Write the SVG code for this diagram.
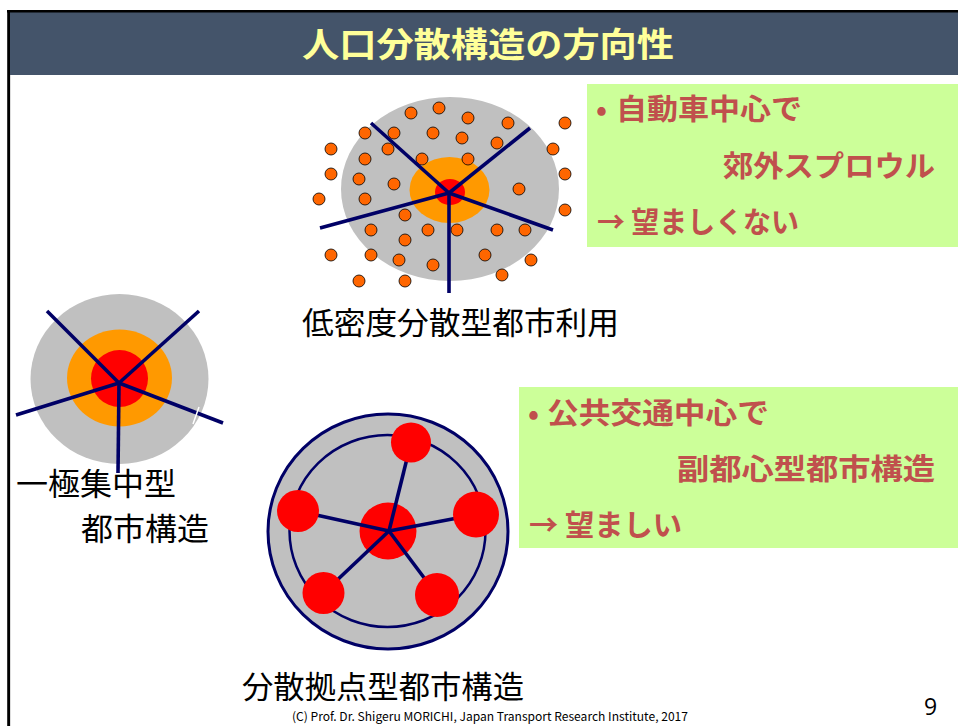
<svg xmlns="http://www.w3.org/2000/svg" width="958" height="726" viewBox="0 0 958 726">
<style>
.jp{font-family:"Noto Sans CJK JP","Noto Sans",sans-serif;}
.lbl{font-size:31px;fill:#000;}
.gt{font-size:29px;font-weight:bold;fill:#C0504D;}
.road{stroke:#000066;stroke-width:3.6;stroke-linecap:butt;fill:none;}
.dot{fill:#FF6600;stroke:#000;stroke-width:0.8;}
.ring{fill:none;stroke:#000066;}
</style>
<rect width="958" height="726" fill="#fff"/>
<!-- frame -->
<g id="frame">
<rect x="10" y="12" width="948" height="63" fill="#44546A"/>
<line x1="7" y1="11.2" x2="958" y2="11.2" stroke="#000" stroke-width="2.5"/>
<line x1="8.6" y1="10" x2="8.6" y2="726" stroke="#000" stroke-width="2.8"/>
<line x1="10.5" y1="75" x2="10.5" y2="726" stroke="#ddd" stroke-width="1"/>
<text class="jp" x="488" y="57" text-anchor="middle" font-size="34" font-weight="bold" fill="#FFFF99" textLength="372" lengthAdjust="spacingAndGlyphs">人口分散構造の方向性</text>
</g>

<!-- low density sprawl -->
<g id="sprawl">
<ellipse cx="450" cy="189" rx="109" ry="92" fill="#C0C0C0"/>
<ellipse cx="449.5" cy="190" rx="40" ry="33" fill="#FF9900"/>
<ellipse cx="450" cy="192" rx="15" ry="13" fill="#FF0000"/>
<g id="sprawl-dots">
<circle class="dot" cx="411" cy="113" r="6"/>
<circle class="dot" cx="439" cy="108" r="6"/>
<circle class="dot" cx="468" cy="118" r="6"/>
<circle class="dot" cx="508" cy="123" r="6"/>
<circle class="dot" cx="565" cy="123" r="6"/>
<circle class="dot" cx="365" cy="133" r="6"/>
<circle class="dot" cx="394" cy="133" r="6"/>
<circle class="dot" cx="433" cy="133" r="6"/>
<circle class="dot" cx="462" cy="138" r="6"/>
<circle class="dot" cx="497" cy="143" r="6"/>
<circle class="dot" cx="331" cy="149" r="6"/>
<circle class="dot" cx="388" cy="149" r="6"/>
<circle class="dot" cx="553" cy="149" r="6"/>
<circle class="dot" cx="365" cy="159" r="6"/>
<circle class="dot" cx="422" cy="159" r="6"/>
<circle class="dot" cx="468" cy="159" r="6"/>
<circle class="dot" cx="331" cy="174" r="6"/>
<circle class="dot" cx="359" cy="179" r="6"/>
<circle class="dot" cx="394" cy="184" r="6"/>
<circle class="dot" cx="565" cy="174" r="6"/>
<circle class="dot" cx="519" cy="189" r="6"/>
<circle class="dot" cx="319" cy="199" r="6"/>
<circle class="dot" cx="365" cy="199" r="6"/>
<circle class="dot" cx="565" cy="210" r="6"/>
<circle class="dot" cx="405" cy="215" r="6"/>
<circle class="dot" cx="371" cy="230" r="6"/>
<circle class="dot" cx="428" cy="230" r="6"/>
<circle class="dot" cx="457" cy="230" r="6"/>
<circle class="dot" cx="497" cy="230" r="6"/>
<circle class="dot" cx="525" cy="230" r="6"/>
<circle class="dot" cx="405" cy="240" r="6"/>
<circle class="dot" cx="331" cy="255" r="6"/>
<circle class="dot" cx="371" cy="255" r="6"/>
<circle class="dot" cx="399" cy="260" r="6"/>
<circle class="dot" cx="433" cy="265" r="6"/>
<circle class="dot" cx="485" cy="255" r="6"/>
<circle class="dot" cx="531" cy="260" r="6"/>
<circle class="dot" cx="359" cy="281" r="6"/>
<circle class="dot" cx="405" cy="281" r="6"/>
<circle class="dot" cx="502" cy="275" r="6"/>
</g>
<g id="sprawl-roads">
<line class="road" x1="449" y1="193" x2="371" y2="123"/>
<line class="road" x1="449" y1="193" x2="530" y2="128"/>
<line class="road" x1="449" y1="193" x2="320" y2="228"/>
<line class="road" x1="449" y1="193" x2="553" y2="230"/>
<line class="road" x1="449" y1="193" x2="449" y2="293"/>
</g>
<text class="jp lbl" x="302" y="334" textLength="317" lengthAdjust="spacingAndGlyphs">低密度分散型都市利用</text>
</g>

<!-- monocentric -->
<g id="monocentric">
<ellipse cx="119.5" cy="379" rx="89" ry="85" fill="#C0C0C0"/>
<ellipse cx="119.5" cy="378" rx="52.5" ry="48.5" fill="#FF9900"/>
<circle cx="119.5" cy="378.5" r="28.5" fill="#FF0000"/>
<g id="mono-roads">
<line class="road" x1="119" y1="383" x2="47" y2="311"/>
<line class="road" x1="119" y1="383" x2="199" y2="311"/>
<line class="road" x1="119" y1="383" x2="16" y2="415"/>
<line class="road" x1="119" y1="383" x2="223" y2="423"/>
<line class="road" x1="119" y1="383" x2="118" y2="473"/>
</g>
<line x1="199" y1="407" x2="193" y2="424" stroke="#fff" stroke-width="1.5"/>
<text class="jp lbl" x="16" y="495" textLength="160" lengthAdjust="spacingAndGlyphs">一極集中型</text>
<text class="jp lbl" x="81" y="540" textLength="128" lengthAdjust="spacingAndGlyphs">都市構造</text>
</g>

<!-- polycentric -->
<g id="polycentric">
<ellipse cx="388" cy="531.5" rx="120" ry="117.5" fill="#C0C0C0" stroke="#000066" stroke-width="3"/>
<ellipse class="ring" cx="387.5" cy="531" rx="98" ry="96" stroke-width="2.5"/>
<circle cx="388" cy="531" r="28.5" fill="#FF0000"/>
<g id="poly-roads">
<line class="road" x1="389" y1="531" x2="411" y2="442.5"/>
<line class="road" x1="389" y1="531" x2="298" y2="511"/>
<line class="road" x1="389" y1="531" x2="476" y2="514.5"/>
<line class="road" x1="389" y1="531" x2="323.5" y2="593"/>
<line class="road" x1="389" y1="531" x2="437" y2="595"/>
</g>
<circle cx="411" cy="442.5" r="20" fill="#FF0000"/>
<circle cx="298" cy="511" r="21" fill="#FF0000"/>
<circle cx="476" cy="514.5" r="23" fill="#FF0000"/>
<circle cx="323.5" cy="593" r="21" fill="#FF0000"/>
<circle cx="437" cy="595" r="22" fill="#FF0000"/>
<text class="jp lbl" x="242" y="698" textLength="282" lengthAdjust="spacingAndGlyphs">分散拠点型都市構造</text>
</g>

<!-- note boxes -->
<g id="note-car">
<rect x="587" y="84" width="371" height="163" fill="#CCFF99"/>
<text class="jp gt" x="596" y="120">•</text>
<text class="jp gt" x="616" y="120" textLength="186" lengthAdjust="spacingAndGlyphs">自動車中心で</text>
<text class="jp gt" x="723" y="177" textLength="212" lengthAdjust="spacingAndGlyphs">郊外スプロウル</text>
<text class="jp gt" x="597" y="233" textLength="202" lengthAdjust="spacingAndGlyphs">→ 望ましくない</text>
</g>
<g id="note-transit">
<rect x="519" y="387" width="439" height="161" fill="#CCFF99"/>
<text class="jp gt" x="528" y="424">•</text>
<text class="jp gt" x="547" y="424" textLength="222" lengthAdjust="spacingAndGlyphs">公共交通中心で</text>
<text class="jp gt" x="677" y="480" textLength="258" lengthAdjust="spacingAndGlyphs">副都心型都市構造</text>
<text class="jp gt" x="529" y="536" textLength="153" lengthAdjust="spacingAndGlyphs">→ 望ましい</text>
</g>

<!-- footer -->
<g id="footer">
<text class="jp" x="292" y="721" font-size="12" fill="#000" textLength="396" lengthAdjust="spacingAndGlyphs">(C) Prof. Dr. Shigeru MORICHI, Japan Transport Research Institute, 2017</text>
<text x="924" y="715" font-family="'Open Sans','Noto Sans',sans-serif" font-size="23" fill="#000">9</text>
</g>
</svg>
